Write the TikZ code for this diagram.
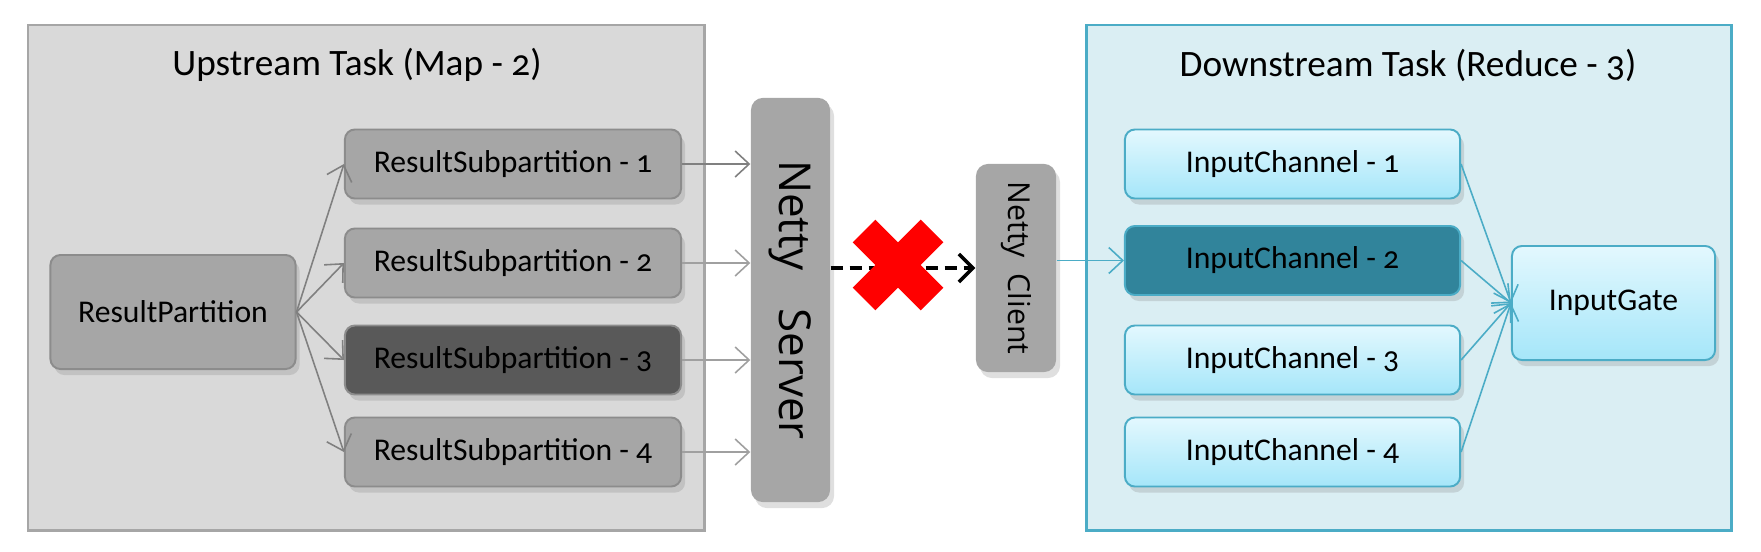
\documentclass[tikz,border=0pt]{standalone}
\usepackage{fontspec}
\setmainfont{Carlito}[Numbers=OldStyle]
\newfontfamily\nettyfont{Open Sans}
\usetikzlibrary{arrows.meta,shadows,calc}

\definecolor{taskgray}{HTML}{D9D9D9}
\definecolor{taskgrayline}{HTML}{A6A6A6}
\definecolor{boxgray}{HTML}{A6A6A6}
\definecolor{boxgrayline}{HTML}{8C8C8C}
\definecolor{boxdark}{HTML}{595959}
\definecolor{arrowgray}{HTML}{808080}
\definecolor{arrowlight}{HTML}{A0A0A0}
\definecolor{taskblue}{HTML}{DAEEF3}
\definecolor{taskblueline}{HTML}{4BACC6}
\definecolor{chantop}{HTML}{E3F8FE}
\definecolor{chanbot}{HTML}{A5E6F9}
\definecolor{chandark}{HTML}{31849B}
\definecolor{crossred}{HTML}{FF0000}

\tikzset{
  taskbox/.style={draw, line width=0.85pt, inner sep=0pt},
  boxshadow/.style={drop shadow={opacity=0.25, shadow xshift=0.4mm, shadow yshift=-0.6mm}},
  subbox/.style={draw=boxgrayline, fill=boxgray, rounded corners=1mm, line width=0.55pt,
    minimum width=3.36cm, minimum height=0.69cm, inner sep=0pt, boxshadow,
    font=\fontsize{9}{11}\selectfont},
  chanbox/.style={draw=taskblueline, top color=chantop, bottom color=chanbot, rounded corners=1mm,
    line width=0.55pt, minimum width=3.35cm, minimum height=0.69cm, inner sep=0pt, boxshadow,
    font=\fontsize{9}{11}\selectfont},
  nettybox/.style={fill=boxgray, rounded corners=1.2mm, inner sep=0pt, boxshadow},
  title/.style={font=\fontsize{10.6}{13}\selectfont},
  grayarrow/.style={draw=arrowgray, line width=0.45pt, -{Straight Barb[length=1.4mm, width=2.6mm]}},
  bluearrow/.style={draw=taskblueline, line width=0.45pt, -{Straight Barb[length=1.4mm, width=2.6mm]}}
}

\begin{document}
\begin{tikzpicture}[x=0.01cm, y=-0.01cm]
        \useasboundingbox (0,0) rectangle (1761,551);

        % Define the upstream task
        \filldraw[taskbox, draw=taskgrayline, fill=taskgray] (28,25) rectangle (704,530);
        \node[title] (uptitle) at (357,65) {Upstream Task (Map - 2)};

        \node[subbox, minimum width=2.45cm, minimum height=1.14cm] (rp) at (173,312) {ResultPartition};
        \node[subbox] (rs1) at (513,164) {ResultSubpartition - 1};
        \node[subbox] (rs2) at (513,263) {ResultSubpartition - 2};
        \node[subbox, fill=boxdark] (rs3) at (513,360) {ResultSubpartition - 3};
        \node[subbox] (rs4) at (513,452) {ResultSubpartition - 4};

        % Define the edges inside the upstream task
        \foreach \i in {1,2,3,4}
            \draw[grayarrow] (rp.east) -- (rs\i.west);

        % Define the netty server and client
        \node[nettybox, minimum width=0.79cm, minimum height=4.04cm] (server) at (790.5,300) {};
        \node[rotate=-90, font=\nettyfont\fontsize{12.5}{15}\selectfont] (servertext) at (server.center) {Netty\hspace{0.85em}Server};
        \node[nettybox, minimum width=0.8cm, minimum height=2.08cm] (client) at (1016,268) {};
        \node[rotate=-90, font=\nettyfont\fontsize{8.6}{10}\selectfont] (clienttext) at (client.center) {Netty\ \ Client};

        \draw[grayarrow] (rs1.east) -- (server.west |- rs1.east);
        \draw[grayarrow, draw=arrowlight] (rs2.east) -- (server.west |- rs2.east);
        \draw[grayarrow, draw=arrowlight] (rs3.east) -- (server.west |- rs3.east);
        \draw[grayarrow, draw=arrowlight] (rs4.east) -- (server.west |- rs4.east);

        % Broken connection
        \draw[line width=1pt, dash pattern=on 3.4pt off 2pt, -{Straight Barb[length=1.4mm, width=2.8mm, line width=1pt]}]
            (server.east |- client.west) -- (client.west);
        \coordinate (cross) at (898,265);
        \draw[crossred, line width=0.32cm] ($(cross)+(-34,-34)$) -- ($(cross)+(34,34)$);
        \draw[crossred, line width=0.32cm] ($(cross)+(-34,34)$) -- ($(cross)+(34,-34)$);

        % Define the downstream task
        \filldraw[taskbox, draw=taskblueline, fill=taskblue] (1086,25) rectangle (1731,530);
        \node[title] (downtitle) at (1408,65) {Downstream Task (Reduce - 3)};

        \node[chanbox] (ic1) at (1292.5,164) {InputChannel - 1};
        \node[chanbox, top color=chandark, bottom color=chandark] (ic2) at (1292.5,260.5) {InputChannel - 2};
        \node[chanbox] (ic3) at (1292.5,360) {InputChannel - 3};
        \node[chanbox] (ic4) at (1292.5,452) {InputChannel - 4};
        \node[chanbox, minimum width=2.03cm, minimum height=1.14cm] (gate) at (1613.5,303) {InputGate};

        % Define the edges inside the downstream task
        \draw[bluearrow] (client.east |- ic2.west) -- (ic2.west);
        \foreach \i in {1,2,3,4}
            \draw[bluearrow] (ic\i.east) -- (gate.west);

\end{tikzpicture}
\end{document}
